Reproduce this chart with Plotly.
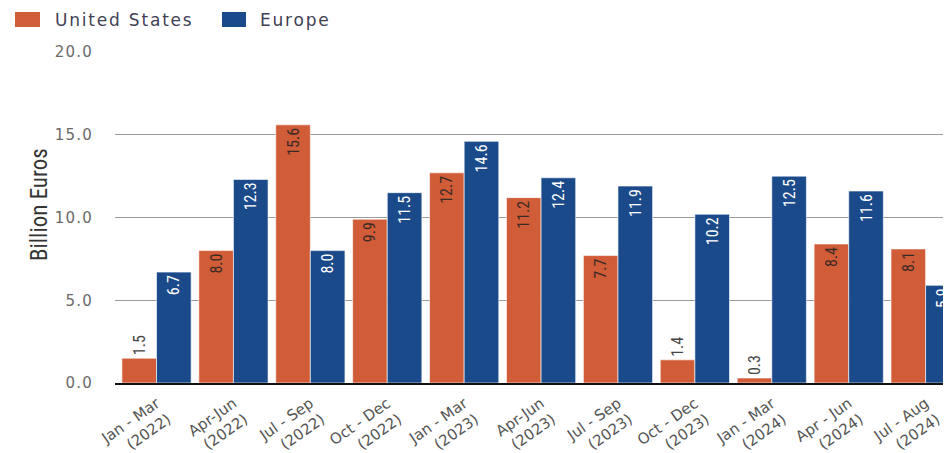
import plotly.graph_objects as go

categories = [
    "Jan - Mar<br>(2022)", "Apr-Jun<br>(2022)", "Jul - Sep<br>(2022)", "Oct - Dec<br>(2022)",
    "Jan - Mar<br>(2023)", "Apr-Jun<br>(2023)", "Jul - Sep<br>(2023)", "Oct - Dec<br>(2023)",
    "Jan - Mar<br>(2024)", "Apr - Jun<br>(2024)", "Jul - Aug<br>(2024)",
]
us_values = [1.5, 8.0, 15.6, 9.9, 12.7, 11.2, 7.7, 1.4, 0.3, 8.4, 8.1]
europe_values = [6.7, 12.3, 8.0, 11.5, 14.6, 12.4, 11.9, 10.2, 12.5, 11.6, 5.9]
y_ticks = [0, 5, 10, 15, 20]
y_ticklabels = ["0.0", "5.0", "10.0", "15.0", "20.0"]
series_names = ["United States", "Europe"]

ORANGE = "#D15C38"
BLUE = "#1B4A8B"
LABEL_FONT = "Roboto Condensed, DejaVu Sans Condensed, Liberation Sans Narrow, Roboto, sans-serif"
WIDE_FONT = "DejaVu Sans, sans-serif"

# figure geometry (figure pixels)
W, H = 943, 445
ML, MR, MT, MB = 107, 0, 44, 70
PW, PH = W - ML - MR, H - MT - MB
OFF = 8  # page body offset

def px(x):
    return (x - OFF - ML) / PW

def py(y):
    return (H - MB - (y - OFF)) / PH

def positions(vals):
    return ["outside" if v < 3 else "inside" for v in vals]

def spaced(t, s):
    return f"<span style='letter-spacing:{s}px'>{t}</span>"

fig = go.Figure()
fig.add_trace(go.Bar(
    name=series_names[0], x=categories, y=us_values,
    marker=dict(color=ORANGE, line=dict(color="rgba(255,255,255,0.6)", width=1)),
    texttemplate="%{y:.1f}", textposition=positions(us_values), textangle=-90,
    insidetextanchor="end",
    insidetextfont=dict(family=LABEL_FONT, size=16, color="#3a2a26"),
    outsidetextfont=dict(family=LABEL_FONT, size=16, color="#444444"),
    cliponaxis=True, showlegend=False,
))
fig.add_trace(go.Bar(
    name=series_names[1], x=categories, y=europe_values,
    marker=dict(color=BLUE, line=dict(color="rgba(255,255,255,0.6)", width=1)),
    texttemplate="%{y:.1f}", textposition=positions(europe_values), textangle=-90,
    insidetextanchor="end",
    insidetextfont=dict(family=LABEL_FONT, size=16, color="#ffffff"),
    outsidetextfont=dict(family=LABEL_FONT, size=16, color="#444444"),
    cliponaxis=True, showlegend=False,
))

# legend drawn manually
legend_items = [(series_names[0], ORANGE, 15, 40, 53), (series_names[1], BLUE, 222, 246, 258)]
for name, color, x0, x1, tx in legend_items:
    fig.add_shape(type="rect", xref="paper", yref="paper",
                  x0=px(x0), x1=px(x1), y0=py(27), y1=py(12),
                  fillcolor=color, line=dict(width=0))
    fig.add_annotation(xref="paper", yref="paper", x=px(tx), y=py(20.5),
                       xanchor="left", yanchor="middle", showarrow=False,
                       text=spaced(name, 1.8),
                       font=dict(family=WIDE_FONT, size=17, color="#3f3f55"))

# y axis title
fig.add_annotation(xref="paper", yref="paper", x=px(39), y=py(205),
                   xanchor="center", yanchor="middle", showarrow=False,
                   textangle=-90, text="Billion Euros",
                   font=dict(family=LABEL_FONT, size=23, color="#333333"))

fig.update_layout(
    width=W, height=H, autosize=False,
    margin=dict(l=ML, r=MR, t=MT, b=MB),
    paper_bgcolor="white", plot_bgcolor="white",
    barmode="group", bargap=0.1, bargroupgap=0,
    font=dict(family=WIDE_FONT, color="#555555"),
    showlegend=False,
    uniformtext=dict(minsize=8, mode="show"),
)
fig.update_yaxes(
    range=[0, 20], tickvals=y_ticks,
    ticktext=[spaced(t, 1.2) for t in y_ticklabels],
    showgrid=True, gridcolor="#9a9a9a", gridwidth=1,
    zeroline=False, showline=False, automargin=False,
    ticks="", ticklabelstandoff=21,
    tickfont=dict(family=WIDE_FONT, size=15, color="#6a6a6a"),
)
fig.update_xaxes(
    range=[-0.54, 10.33],
    showline=True, linecolor="#111111", linewidth=2, automargin=False,
    showgrid=False, ticks="", tickangle=-35, ticklabelstandoff=4,
    tickfont=dict(family=WIDE_FONT, size=15, color="#555555"),
)

fig.write_html("out.html")
